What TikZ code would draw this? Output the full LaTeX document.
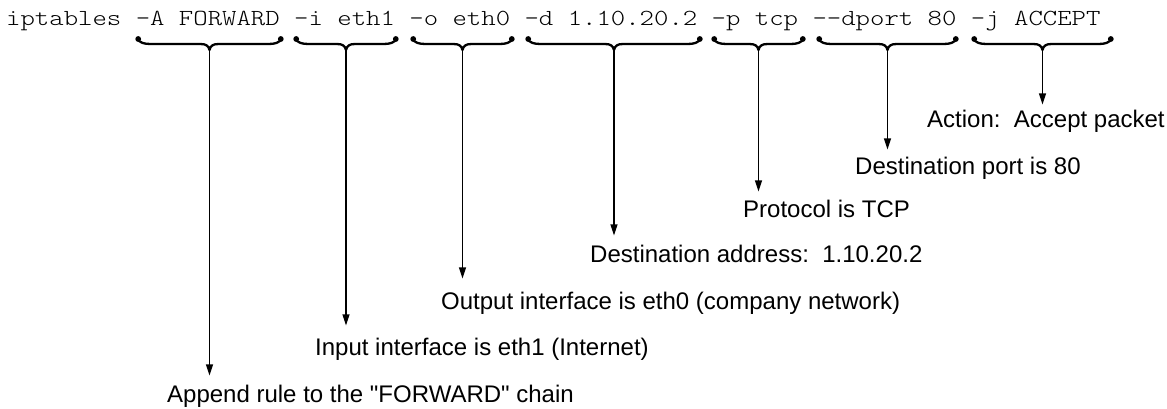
\documentclass[tikz,border=0pt]{standalone}
\usepackage{fontspec}
\setmainfont{Liberation Sans}[Ligatures=TeXOff]
\newfontfamily\cmdfont{lmmonolt10-regular.otf}[FakeStretch=1.1925]
\usetikzlibrary{arrows.meta}

\tikzset{
  cmd/.style={font=\cmdfont\fontsize{23}{28}\selectfont, inner sep=0pt, anchor=base west},
  lbl/.style={font=\fontsize{24}{28}\selectfont, inner sep=0pt, anchor=base west},
  bracepen/.style={line width=2.3pt, line cap=round, line join=round},
  pointer/.style={line width=1.3pt, -{Triangle[length=11pt,width=7pt]}}
}

% underbrace between x-positions #1 and #2, tip stored as coordinate #3
\newcommand\cmdbrace[3]{%
  \pgfmathsetmacro\bl{#1}%
  \pgfmathsetmacro\br{#2}%
  \pgfmathsetmacro\bm{(#1+#2)/2}%
  \draw[bracepen] (\bl,38.5) .. controls (\bl+3,43) and (\bl+7,44) .. (\bl+14,44)
    -- (\bm-9,44) .. controls (\bm-3,44) and (\bm-1,46) .. (\bm,50)
    .. controls (\bm+1,46) and (\bm+3,44) .. (\bm+9,44)
    -- (\br-14,44) .. controls (\br-7,44) and (\br-3,43) .. (\br,38.5);
  \fill (\bl+1.2,39) circle (2.9pt);
  \fill (\br-1.2,39) circle (2.9pt);
  \coordinate (#3) at (\bm,50);
}

\begin{document}
\begin{tikzpicture}[x=1pt, y=-1pt]
  \useasboundingbox (0,0) rectangle (1167,408);

  % the command line
  \node[cmd] (command) at (6,25)
    {iptables -A FORWARD -i eth1 -o eth0 -d 1.10.20.2 -p tcp -{}-dport 80 -j ACCEPT};

  % braces under each option
  \cmdbrace{137}{282}{bA}
  \cmdbrace{295}{397}{bI}
  \cmdbrace{412}{513}{bO}
  \cmdbrace{527}{701}{bD}
  \cmdbrace{713}{804}{bP}
  \cmdbrace{818}{957}{bPort}
  \cmdbrace{973}{1112}{bJ}

  % explanations
  \node[lbl] (lA)    at (167,402) {Append rule to the "FORWARD" chain};
  \node[lbl] (lI)    at (315,355) {Input interface is eth1 (Internet)};
  \node[lbl] (lO)    at (441,309) {Output interface is eth0 (company network)};
  \node[lbl] (lD)    at (590,262) {Destination address:\ \ 1.10.20.2};
  \node[lbl] (lP)    at (743,217) {Protocol is TCP};
  \node[lbl] (lPort) at (855,174) {Destination port is 80};
  \node[lbl] (lJ)    at (927,127) {Action:\ \ Accept packet};

  % pointers from braces to explanations
  \draw[pointer, shorten >=9pt]  (bA)    -- (bA |- lA.north);
  \draw[pointer, shorten >=12pt] (bI)    -- (bI |- lI.north);
  \draw[pointer, shorten >=13pt] (bO)    -- (bO |- lO.north);
  \draw[pointer, shorten >=9pt]  (bD)    -- (bD |- lD.north);
  \draw[pointer, shorten >=8pt]  (bP)    -- (bP |- lP.north);
  \draw[pointer, shorten >=7pt]  (bPort) -- (bPort |- lPort.north);
  \draw[pointer, shorten >=5pt]  (bJ)    -- (bJ |- lJ.north);
\end{tikzpicture}
\end{document}
